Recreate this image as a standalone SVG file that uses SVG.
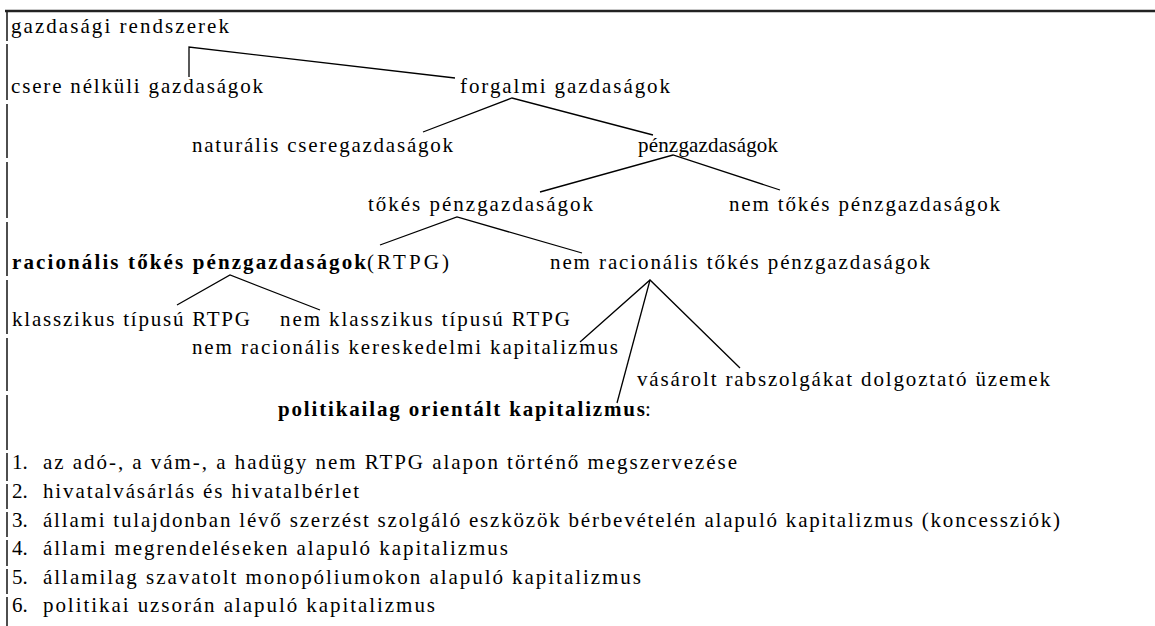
<svg xmlns="http://www.w3.org/2000/svg" width="1155" height="626" viewBox="0 0 1155 626">
<style>
.c{stroke:#000;stroke-width:1.3;fill:none}
.frame{stroke:#222;fill:none}
</style>
<rect width="1155" height="626" fill="#fff"/>
<g id="frame">
<line class="frame" x1="5" y1="11" x2="1155" y2="11" stroke-width="2.4"/>
<path class="frame" stroke-width="1.6" d="M7 11V41M7 44V100M7 104V158M7 162V218M7 222V276M7 280V334M7 338V391M7 395V450M7 453V481M7 484V509M7 512V537M7 540V566M7 569V594M7 597V626"/>
</g>
<g id="connectors">
<polyline class="c" points="189,77 189,47 455,78"/>
<polyline class="c" points="423,132 512,98 653,135"/>
<polyline class="c" points="540,192 673,155 780,190"/>
<polyline class="c" points="380,245 457,217 582,253"/>
<polyline class="c" points="177,305 230,275 320,310"/>
<polyline class="c" points="580,342 650,280 740,368"/>
<line class="c" x1="650" y1="280" x2="617" y2="403"/>
</g>
<g id="nodes" font-family="Liberation Serif, Times New Roman, serif" font-size="21" fill="#000">
<g id="n-gazdasagi-rendszerek"><text x="11" y="33" textLength="218" lengthAdjust="spacing">gazdasági rendszerek</text></g>
<g id="n-csere-nelkuli"><text x="11" y="93" textLength="252" lengthAdjust="spacing">csere nélküli gazdaságok</text></g>
<g id="n-forgalmi"><text x="460" y="93" textLength="210" lengthAdjust="spacing">forgalmi gazdaságok</text></g>
<g id="n-naturalis"><text x="192" y="152" textLength="261" lengthAdjust="spacing">naturális cseregazdaságok</text></g>
<g id="n-penzgazdasagok"><text x="638" y="152" textLength="140" lengthAdjust="spacing">pénzgazdaságok</text></g>
<g id="n-tokes"><text x="368" y="211" textLength="225" lengthAdjust="spacing">tőkés pénzgazdaságok</text></g>
<g id="n-nem-tokes"><text x="729" y="211" textLength="271" lengthAdjust="spacing">nem tőkés pénzgazdaságok</text></g>
<g id="n-racionalis"><text font-weight="bold" x="12" y="269" textLength="354" lengthAdjust="spacing">racionális tőkés pénzgazdaságok</text><text x="367" y="269" textLength="82" lengthAdjust="spacing">(RTPG)</text></g>
<g id="n-nem-racionalis"><text x="550" y="269" textLength="380" lengthAdjust="spacing">nem racionális tőkés pénzgazdaságok</text></g>
<g id="n-klasszikus"><text x="12" y="326" textLength="238" lengthAdjust="spacing">klasszikus típusú RTPG</text></g>
<g id="n-nem-klasszikus"><text x="280" y="326" textLength="290" lengthAdjust="spacing">nem klasszikus típusú RTPG</text></g>
<g id="n-kereskedelmi"><text x="192" y="354" textLength="426" lengthAdjust="spacing">nem racionális kereskedelmi kapitalizmus</text></g>
<g id="n-vasarolt"><text x="637" y="386" textLength="413" lengthAdjust="spacing">vásárolt rabszolgákat dolgoztató üzemek</text></g>
<g id="n-politikailag"><text font-weight="bold" x="278" y="416" textLength="367" lengthAdjust="spacing">politikailag orientált kapitalizmus</text><text x="645" y="416">:</text></g>
<g id="list">
<text x="12" y="469">1.</text><text x="43" y="469" textLength="694" lengthAdjust="spacing">az adó-, a vám-, a hadügy nem RTPG alapon történő megszervezése</text>
<text x="12" y="498">2.</text><text x="43" y="498" textLength="316" lengthAdjust="spacing">hivatalvásárlás és hivatalbérlet</text>
<text x="12" y="527">3.</text><text x="43" y="527" textLength="1017" lengthAdjust="spacing">állami tulajdonban lévő szerzést szolgáló eszközök bérbevételén alapuló kapitalizmus (koncessziók)</text>
<text x="12" y="555">4.</text><text x="43" y="555" textLength="465" lengthAdjust="spacing">állami megrendeléseken alapuló kapitalizmus</text>
<text x="12" y="584">5.</text><text x="43" y="584" textLength="598" lengthAdjust="spacing">államilag szavatolt monopóliumokon alapuló kapitalizmus</text>
<text x="12" y="612">6.</text><text x="43" y="612" textLength="392" lengthAdjust="spacing">politikai uzsorán alapuló kapitalizmus</text>
</g>
</g>
</svg>
